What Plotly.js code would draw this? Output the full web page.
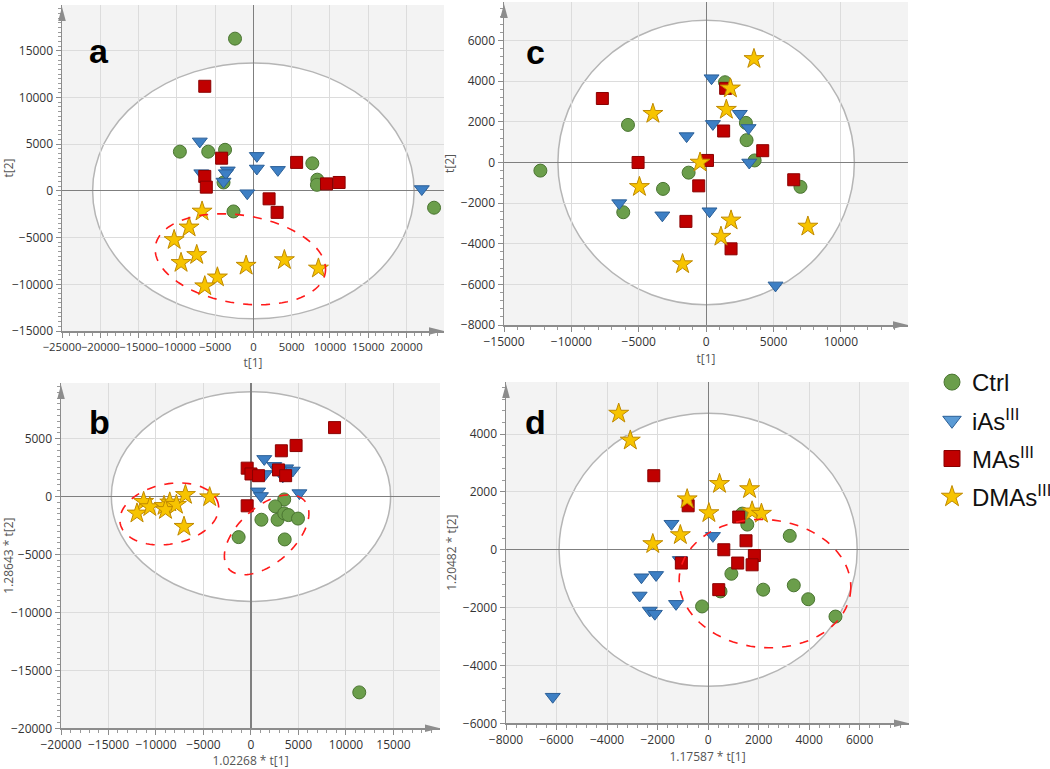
<!DOCTYPE html>
<html>
<head>
<meta charset="utf-8">
<script src="https://cdn.plot.ly/plotly-3.0.1.min.js"></script>
<style>
html, body { margin: 0; padding: 0; background: #fff; overflow: hidden; }
#chart { width: 1050px; height: 769px; }
</style>
</head>
<body>
<div id="chart"></div>
<script>
const W = 1050, H = 769;

// legend names
const groups = ['Ctrl', 'iAs<sup>III</sup>', 'MAs<sup>III</sup>', 'DMAs<sup>III</sup>'];

// panel a : t[1] vs t[2]
const aCtrlX = [-2400, -9600, -5900, -3700, -3900, -2600, 7700, 8350, 8300, 23600];
const aCtrlY = [16300, 4200, 4200, 4400, 900, -2200, 2950, 1200, 650, -1800];
const aIasX = [-7000, -6800, -3350, -3600, -3900, -800, 450, 450, 3200, 22000];
const aIasY = [5300, 1900, 2200, 1900, 1000, -250, 3750, 2400, 2250, 200];
const aMasX = [-6350, -4150, -6350, -6150, 5650, 2050, 3100, 9550, 11200];
const aMasY = [11200, 3500, 1550, 400, 3050, -850, -2300, 750, 900];
const aDmasX = [-6700, -8400, -10350, -7400, -9450, -4700, -6350, -950, 4050, 8500];
const aDmasY = [-2200, -3900, -5250, -6850, -7700, -9250, -10200, -8000, -7400, -8300];

// panel c : t[1] vs t[2]
const cCtrlX = [-12300, -5800, -3200, -1300, -6150, 1400, 2950, 3000, 3600, 7000];
const cCtrlY = [-400, 1850, -1300, -500, -2450, 3950, 1950, 1100, 100, -1200];
const cIasX = [400, 500, -1450, 2500, 3150, 3200, -6450, -3250, 250, 5150];
const cIasY = [4150, 1900, 1300, 2400, 1700, 0, -2000, -2600, -2400, -6050];
const cMasX = [-7700, -5050, -550, 100, -1500, 1300, 1450, 4200, 1850, 6500];
const cMasY = [3150, 0, -1150, 100, -2900, 1550, 3650, 580, -4250, -850];
const cDmasX = [3550, 1800, 1500, -3950, -450, -4950, 1850, 1100, -1750, 7550];
const cDmasY = [5100, 3650, 2600, 2400, 0, -1200, -2850, -3650, -5000, -3150];

// panel b : 1.02268*t[1] vs 1.28643*t[2]
const bCtrlX = [-1300, 1100, 2800, 3500, 2550, 3500, 3950, 4950, 3550, 11400];
const bCtrlY = [-3500, -2000, -2000, -250, -850, -1450, -1600, -1900, -3700, -16900];
const bIasX = [1400, 2450, 1500, 3700, 4400, 3350, 750, 1050, 5100, 2900];
const bIasY = [3250, 2650, 1950, 2450, 2250, 1750, 450, 50, 300, 2300];
const bMasX = [8800, 4750, 3200, -400, 0, 800, 2900, 3650, -400];
const bMasY = [5950, 4400, 3950, 2450, 1950, 1800, 2300, 1800, -800];
const bDmasX = [-11300, -12000, -10650, -9150, -8550, -9000, -7850, -6900, -4350, -7050];
const bDmasY = [-450, -1450, -900, -800, -500, -1150, -700, 150, -50, -2600];

// panel d : 1.17587*t[1] vs 1.20482*t[2]
const dCtrlX = [1550, 1350, 920, 490, -240, 2180, 3230, 3390, 3960, 5040];
const dCtrlY = [870, 1250, -830, -1440, -1960, -1380, 480, -1230, -1710, -2310];
const dIasX = [-1450, 190, -1120, -2640, -2060, -2710, -2310, -2110, -1270, -6150];
const dIasY = [900, 480, -350, -950, -870, -1580, -2100, -2210, -1870, -5080];
const dMasX = [-2150, -790, 1210, 1500, 620, 1830, 1170, 1740, -1060, 420];
const dMasY = [2560, 1520, 1130, 310, 0, -200, -460, -520, -460, -1380];
const dDmasX = [-3540, -3080, 450, 1640, -830, 30, 1740, 2110, -1100, -2190];
const dDmasY = [4710, 3780, 2280, 2100, 1750, 1270, 1330, 1250, 510, 200];

const markerStyle = [
    { symbol: 'circle', color: '#6b9e4b', line: { color: '#4a7431', width: 1 }, size: 13 },
    { symbol: 'triangle-down', color: '#3d7fc4', line: { color: '#2b5f97', width: 1 }, size: 13 },
    { symbol: 'square', color: '#c00000', line: { color: '#8a0000', width: 1 }, size: 12 },
    { symbol: 'star', color: '#f7c400', line: { color: '#c08a00', width: 1 }, size: 15 }
];

const panels = [
    { xa: 'x', ya: 'y', sets: [[aCtrlX, aCtrlY], [aIasX, aIasY], [aMasX, aMasY], [aDmasX, aDmasY]] },
    { xa: 'x2', ya: 'y2', sets: [[cCtrlX, cCtrlY], [cIasX, cIasY], [cMasX, cMasY], [cDmasX, cDmasY]] },
    { xa: 'x3', ya: 'y3', sets: [[bCtrlX, bCtrlY], [bIasX, bIasY], [bMasX, bMasY], [bDmasX, bDmasY]] },
    { xa: 'x4', ya: 'y4', sets: [[dCtrlX, dCtrlY], [dIasX, dIasY], [dMasX, dMasY], [dDmasX, dDmasY]] }
];

const traces = [];
panels.forEach(p => {
    p.sets.forEach((s, i) => {
        traces.push({
            type: 'scatter', mode: 'markers',
            x: s[0], y: s[1], xaxis: p.xa, yaxis: p.ya,
            name: groups[i], legendgroup: 'g' + i, showlegend: false,
            marker: markerStyle[i], hoverinfo: 'x+y'
        });
    });
});
// legend-only entries with bigger symbols
groups.forEach((g, i) => {
    traces.push({
        type: 'scatter', mode: 'markers', x: [null], y: [null],
        name: g, legendgroup: 'g' + i, showlegend: true,
        marker: Object.assign({}, markerStyle[i], { size: i === 3 ? 20 : 17, color: i === 1 ? '#5b9bd5' : markerStyle[i].color })
    });
});

function axis(domain, range, dtick, minor, title, anchor, fs) {
    return {
        domain: domain, range: range, dtick: dtick, tick0: 0, anchor: anchor,
        tickformat: 'd', tickangle: 0,
        showgrid: true, gridcolor: '#dcdcdc', gridwidth: 1,
        zeroline: true, zerolinecolor: '#7f7f7f', zerolinewidth: 1.2,
        showline: true, linecolor: '#8c8c8c', linewidth: 1.5,
        ticks: 'outside', ticklen: 5, tickcolor: '#8c8c8c',
        minor: { dtick: minor, ticks: 'outside', ticklen: 3, tickcolor: '#9a9a9a', showgrid: false },
        tickfont: { family: 'Open Sans', size: fs || 12, color: '#333' },
        title: { text: title, font: { family: 'Open Sans', size: 12, color: '#555' }, standoff: 3 },
        fixedrange: true
    };
}

const xa = axis([62 / W, 444 / W], [-25000, 24900], 5000, 1000, 't[1]', 'y', 11.3);
const ya = axis([(H - 331) / H, (H - 5) / H], [-15000, 19900], 5000, 500, 't[2]', 'x');
const xc = axis([504 / W, 908 / W], [-15000, 14980], 5000, 1000, 't[1]', 'y2');
const yc = axis([(H - 325) / H, (H - 2) / H], [-8000, 7900], 2000, 400, 't[2]', 'x2');
const xb = axis([61 / W, 440 / W], [-20000, 19900], 5000, 1000, '1.02268 * t[1]', 'y3');
const yb = axis([(H - 728.3) / H, (H - 383) / H], [-20000, 9800], 5000, 500, '1.28643 * t[2]', 'x3');
const xd = axis([506 / W, 909 / W], [-8000, 7950], 2000, 400, '1.17587 * t[1]', 'y4');
const yd = axis([(H - 723.3) / H, (H - 382) / H], [-6000, 5800], 2000, 400, '1.20482 * t[2]', 'x4');

// ellipse outline in data units, radii given in screen pixels, angle in degrees
function ellipsePath(ax, ay, e) {
    const kx = (ax.domain[1] - ax.domain[0]) * W / (ax.range[1] - ax.range[0]);
    const ky = (ay.domain[1] - ay.domain[0]) * H / (ay.range[1] - ay.range[0]);
    const a = e.ang * Math.PI / 180;
    let p = '';
    for (let i = 0; i <= 90; i++) {
        const t = i / 90 * 2 * Math.PI;
        const u = e.rx * Math.cos(t), v = e.ry * Math.sin(t);
        const dx = u * Math.cos(a) - v * Math.sin(a);
        const dy = u * Math.sin(a) + v * Math.cos(a);
        p += (i ? 'L' : 'M') + (e.cx + dx / kx).toFixed(1) + ',' + (e.cy + dy / ky).toFixed(1);
    }
    return p + 'Z';
}

const shapes = [];
// Hotelling T2 ellipses
[['x', 'y', 21000, 13700], ['x2', 'y2', 11000, 7000], ['x3', 'y3', 14700, 9050], ['x4', 'y4', 5900, 4720]].forEach(g => {
    shapes.push({
        type: 'circle', xref: g[0], yref: g[1], x0: -g[2], x1: g[2], y0: -g[3], y1: g[3],
        fillcolor: '#ffffff', line: { color: '#b5b5b5', width: 1.5 }, layer: 'below'
    });
});
// red dashed cluster rings
[
    [xa, ya, 'x', 'y', { cx: -1700, cy: -7320, rx: 86, ry: 44, ang: -9 }],
    [xb, yb, 'x3', 'y3', { cx: -8600, cy: -1500, rx: 50, ry: 30, ang: 11 }],
    [xb, yb, 'x3', 'y3', { cx: 1650, cy: -3300, rx: 51, ry: 28, ang: 42 }],
    [xd, yd, 'x4', 'y4', { cx: 2250, cy: -1170, rx: 86, ry: 64, ang: -5 }]
].forEach(r => {
    shapes.push({
        type: 'path', xref: r[2], yref: r[3], path: ellipsePath(r[0], r[1], r[4]),
        line: { color: '#ff1a1a', width: 1.6, dash: 'dash' }
    });
});
// axis arrow heads (paper coordinates)
function px(v) { return (v / W).toFixed(5); }
function py(v) { return (1 - v / H).toFixed(5); }
[[xa, ya], [xc, yc], [xb, yb], [xd, yd]].forEach(p => {
    const left = p[0].domain[0] * W, right = p[0].domain[1] * W;
    const bottom = (1 - p[1].domain[0]) * H, top = (1 - p[1].domain[1]) * H;
    shapes.push({
        type: 'path', xref: 'paper', yref: 'paper', fillcolor: '#8c8c8c', line: { width: 0 },
        path: 'M' + px(right - 15) + ',' + py(bottom - 3.8) + ' L' + px(right) + ',' + py(bottom) +
              ' L' + px(right - 15) + ',' + py(bottom + 3.8) + ' Z'
    });
    shapes.push({
        type: 'path', xref: 'paper', yref: 'paper', fillcolor: '#8c8c8c', line: { width: 0 },
        path: 'M' + px(left - 3.8) + ',' + py(top + 16) + ' L' + px(left) + ',' + py(top + 2) +
              ' L' + px(left + 3.8) + ',' + py(top + 16) + ' Z'
    });
});

const letters = [['a', 87, 30], ['c', 535, 31], ['b', 87, 422], ['d', 535, 422]];
const annotations = letters.map(l => ({
    text: '<b>' + l[0] + '</b>', xref: 'paper', yref: 'paper',
    x: l[1] / W, y: 1 - l[2] / H, showarrow: false,
    font: { family: 'Liberation Sans', size: 34, color: '#000' }
}));

const layout = {
    width: W, height: H,
    margin: { t: 0, r: 0, b: 0, l: 0, autoexpand: false },
    paper_bgcolor: '#ffffff',
    plot_bgcolor: '#f3f3f3',
    xaxis: xa, yaxis: ya, xaxis2: xc, yaxis2: yc,
    xaxis3: xb, yaxis3: yb, xaxis4: xd, yaxis4: yd,
    shapes: shapes,
    annotations: annotations,
    showlegend: true,
    legend: {
        x: 932 / W, y: 1 - 360 / H, xanchor: 'left', yanchor: 'top',
        font: { family: 'Liberation Sans', size: 24, color: '#111' },
        bgcolor: 'rgba(0,0,0,0)', traceorder: 'grouped', tracegroupgap: 4
    }
};

Plotly.newPlot('chart', traces, layout, { displayModeBar: false, staticPlot: true });
</script>
</body>
</html>
